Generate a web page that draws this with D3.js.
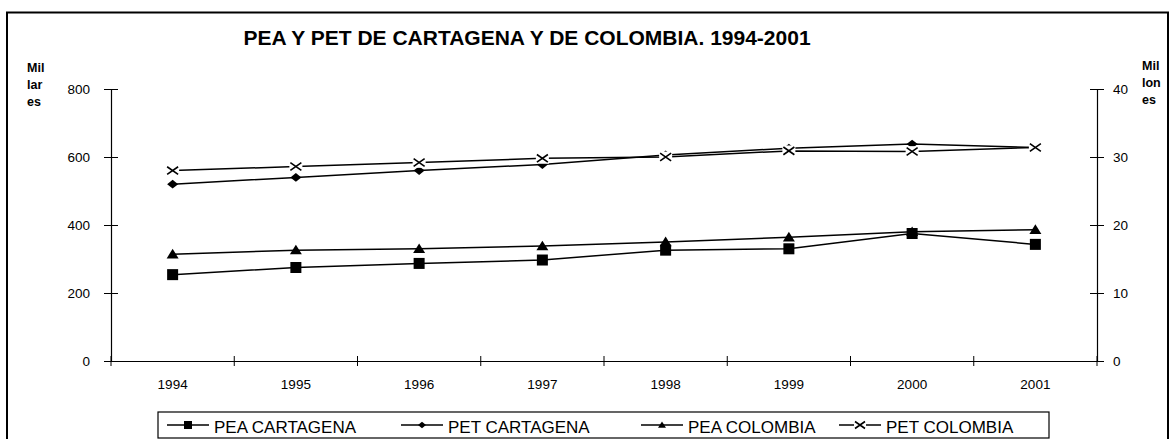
<!DOCTYPE html>
<html>
<head>
<meta charset="utf-8">
<script src="https://cdn.jsdelivr.net/npm/d3@7"></script>
<style>
  body { margin: 0; background: #fff; }
  svg { font-family: "Liberation Sans", Arial, sans-serif; }
</style>
</head>
<body>
<div id="chart"></div>
<script>
// Chart data
let years = ["1994", "1995", "1996", "1997", "1998", "1999", "2000", "2001"];
let peaCartagena = [254, 275, 287, 297, 326, 330, 375, 343];
let petCartagena = [520, 540, 560, 578, 606, 626, 638, 628];
let peaColombia = [15.7, 16.3, 16.5, 16.9, 17.5, 18.2, 19.0, 19.3];
let petColombia = [28.0, 28.6, 29.2, 29.8, 30.0, 30.9, 30.8, 31.4];
let leftTicks = [0, 200, 400, 600, 800];
let rightTicks = [0, 10, 20, 30, 40];
let seriesNames = ["PEA CARTAGENA", "PET CARTAGENA", "PEA COLOMBIA", "PET COLOMBIA"];

let width = 1175;
let height = 439;
let plot = {left: 111, right: 1097, top: 89, bottom: 361};

let svg = d3.select('#chart')
.append('svg')
.attr('width', width)
.attr('height', height);

// Outer frame
svg.append('rect')
.attr('x', 7).attr('y', 12.5)
.attr('width', 1161).attr('height', 460)
.attr('fill', 'none')
.attr('stroke', '#000')
.attr('stroke-width', 2);

// Scales
let x = d3.scaleBand()
.domain(years)
.range([plot.left, plot.right]);

let yLeft = d3.scaleLinear()
.domain([0, 800])
.range([plot.bottom, plot.top]);

let yRight = d3.scaleLinear()
.domain([0, 40])
.range([plot.bottom, plot.top]);

// Title
svg.append('text')
.attr('x', 527)
.attr('y', 45)
.attr('text-anchor', 'middle')
.style('font-size', '21px')
.style('font-weight', 'bold')
.text('PEA Y PET DE CARTAGENA Y DE COLOMBIA. 1994-2001');

// Unit labels
function unitLabel(xpos, ypos, lines){
    let t = svg.append('text')
    .attr('x', xpos)
    .attr('y', ypos)
    .style('font-size', '12.5px')
    .style('font-weight', 'bold');
    lines.forEach(function(l, i){
        t.append('tspan').attr('x', xpos).attr('dy', i == 0 ? 0 : 17).text(l);
    });
}
unitLabel(27, 72, ['Mil', 'lar', 'es']);
unitLabel(1142, 70, ['Mil', 'lon', 'es']);

// Axes (ticks crossing the axis line)
let axisLeft = svg.append('g')
.attr('transform', 'translate(' + plot.left + ',0)')
.call(d3.axisLeft(yLeft).tickValues(leftTicks).tickSize(7).tickSizeOuter(0).tickPadding(14));

let axisRight = svg.append('g')
.attr('transform', 'translate(' + plot.right + ',0)')
.call(d3.axisRight(yRight).tickValues(rightTicks).tickSize(7).tickSizeOuter(0).tickPadding(9));

let axisBottom = svg.append('g')
.attr('transform', 'translate(0,' + plot.bottom + ')')
.call(d3.axisBottom(x).tickSize(0).tickSizeOuter(0).tickPadding(18));

// Category boundary ticks on x axis
svg.append('g')
.selectAll('line')
.data(d3.range(years.length + 1))
.enter()
.append('line')
.attr('x1', function(i){ return plot.left + i * x.step(); })
.attr('x2', function(i){ return plot.left + i * x.step(); })
.attr('y1', plot.bottom - 5)
.attr('y2', plot.bottom + 5)
.attr('stroke', '#000');

[axisLeft, axisRight, axisBottom].forEach(function(a){
    a.selectAll('.domain').attr('stroke', '#000').attr('stroke-width', 1.2);
    a.selectAll('text').style('font-size', '13.5px').attr('fill', '#000')
    .style('font-family', '"Liberation Sans", Arial, sans-serif');
});
axisLeft.selectAll('.tick line').attr('x2', 7).attr('x1', -7);
axisRight.selectAll('.tick line').attr('x1', -7).attr('x2', 7);

// Marker shapes
function drawMarker(g, type, cx, cy, s){
    if(type == 'square'){
        g.append('rect').attr('x', cx - s / 2).attr('y', cy - s / 2)
        .attr('width', s).attr('height', s).attr('fill', '#000');
    }
    else if(type == 'diamond'){
        g.append('path')
        .attr('d', 'M' + cx + ',' + (cy - s * 0.4) + 'L' + (cx + s / 2) + ',' + cy +
            'L' + cx + ',' + (cy + s * 0.4) + 'L' + (cx - s / 2) + ',' + cy + 'Z')
        .attr('fill', '#000');
    }
    else if(type == 'triangle'){
        g.append('path')
        .attr('d', 'M' + cx + ',' + (cy - s * 0.45) + 'L' + (cx + s / 2) + ',' + (cy + s * 0.35) +
            'L' + (cx - s / 2) + ',' + (cy + s * 0.35) + 'Z')
        .attr('fill', '#000');
    }
    else if(type == 'cross'){
        g.append('rect').attr('x', cx - s / 2 - 1).attr('y', cy - s * 0.4 - 1)
        .attr('width', s + 2).attr('height', s * 0.8 + 2).attr('fill', '#fff');
        g.append('path')
        .attr('d', 'M' + (cx - s / 2) + ',' + (cy - s * 0.35) + 'L' + (cx + s / 2) + ',' + (cy + s * 0.35) +
            'M' + (cx - s / 2) + ',' + (cy + s * 0.35) + 'L' + (cx + s / 2) + ',' + (cy - s * 0.35))
        .attr('stroke', '#000').attr('stroke-width', 1.6).attr('fill', 'none');
    }
}

let series = [
    {name: seriesNames[0], values: peaCartagena, scale: yLeft, marker: 'square', size: 11},
    {name: seriesNames[1], values: petCartagena, scale: yLeft, marker: 'diamond', size: 11},
    {name: seriesNames[2], values: peaColombia, scale: yRight, marker: 'triangle', size: 12},
    {name: seriesNames[3], values: petColombia, scale: yRight, marker: 'cross', size: 11}
];

let lines = svg.append('g');
let markers = svg.append('g');

series.forEach(function(s){
    let line = d3.line()
    .x(function(d, i){ return x(years[i]) + x.bandwidth() / 2; })
    .y(function(d){ return s.scale(d); });

    lines.append('path')
    .datum(s.values)
    .attr('d', line)
    .attr('fill', 'none')
    .attr('stroke', '#000')
    .attr('stroke-width', 1.5);

    let g = markers.append('g');
    s.values.forEach(function(v, i){
        drawMarker(g, s.marker, x(years[i]) + x.bandwidth() / 2, s.scale(v), s.size);
    });
});

// Legend
let legend = svg.append('g');
legend.append('rect')
.attr('x', 158).attr('y', 412)
.attr('width', 891).attr('height', 26)
.attr('fill', '#fff')
.attr('stroke', '#000')
.attr('stroke-width', 1.2);

let legendX = [188, 422, 662, 860];
series.forEach(function(s, i){
    let cx = legendX[i];
    let g = legend.append('g');
    g.append('line')
    .attr('x1', cx - 21).attr('x2', cx + 21)
    .attr('y1', 425).attr('y2', 425)
    .attr('stroke', '#000').attr('stroke-width', 1.6);
    drawMarker(g, s.marker, cx, 425, s.marker == 'cross' ? 10 : 8);
    g.append('text')
    .attr('x', cx + 26)
    .attr('y', 432.5)
    .style('font-size', '17px')
    .text(s.name);
});
</script>
</body>
</html>
